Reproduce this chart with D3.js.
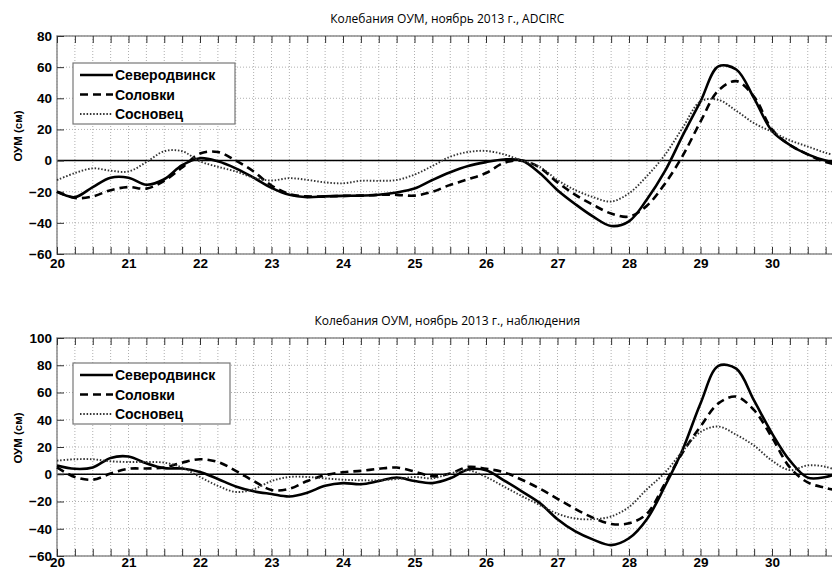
<!DOCTYPE html>
<html>
<head>
<meta charset="utf-8">
<script src="https://cdn.jsdelivr.net/npm/d3@7"></script>
<style>
body { margin: 0; background: #fff; }
text { font-family: "Liberation Sans", Arial, sans-serif; }
</style>
</head>
<body>
<svg id="svg1" width="832" height="572"></svg>
<script>
// время, сутки ноября 2013 (шаг 6 ч)
var days = [20, 20.25, 20.5, 20.75, 21, 21.25, 21.5, 21.75, 22, 22.25, 22.5, 22.75,
    23, 23.25, 23.5, 23.75, 24, 24.25, 24.5, 24.75, 25, 25.25, 25.5, 25.75,
    26, 26.25, 26.5, 26.75, 27, 27.25, 27.5, 27.75, 28, 28.25, 28.5, 28.75,
    29, 29.25, 29.5, 29.75, 30, 30.25, 30.5, 30.75, 31];

var stations = ['Северодвинск', 'Соловки', 'Сосновец'];
var dayLabels = [20, 21, 22, 23, 24, 25, 26, 27, 28, 29, 30];

// ADCIRC
var sevModel = [-20, -23.5, -17, -11, -11, -15.5, -12, -3, 1.5, -0.5, -5, -11,
    -17.5, -22, -23.5, -23, -22.7, -22.5, -22, -20.5, -18, -12.5, -7.5, -3.5,
    -1, 0.7, 0, -8, -19, -28, -36, -42, -39, -25, -7, 16,
    38, 60.5, 58.5, 40, 19, 10, 4, 0, -2];
var solModel = [-20, -24, -23, -19, -17, -18, -13, -4.5, 4.5, 5.5, 0, -7,
    -16, -21.5, -23, -23, -22.7, -22.5, -22, -22, -22.5, -20, -15.6, -12,
    -8, -1.5, 0, -4.5, -14, -22, -28.5, -34, -36, -29, -15, 3,
    25, 45, 51, 41, 20, 10, 4, -1, -3];
var sosModel = [-12.5, -8, -5, -6.5, -7, -1, 6, 6, -0.5, -4, -7, -11,
    -12.8, -11.3, -12.4, -14, -14.6, -13, -13, -12.5, -9, -3.5, 2.5, 5.5,
    6.2, 4, 0, -4, -12.5, -19, -23.5, -26.3, -21, -10, 3.5, 21,
    38, 39, 32, 24, 18.5, 13, 9, 5, 2];

// наблюдения
var sevObs = [6.5, 4, 5, 12, 13, 8, 4.5, 4.2, 1.7, -3.5, -9, -12.5,
    -14.5, -16.3, -13.5, -8.5, -6.5, -7.3, -5, -2.4, -5, -6.5, -3, 3.5,
    3, -4.5, -12.5, -21, -33, -42, -48, -52, -47, -33, -9, 18,
    52, 79.5, 77.5, 54, 30, 10, -2.5, -2, 2];
var solObs = [5, -2, -4, 0.5, 4, 4.2, 5, 8.5, 11, 9, 2.5, -5,
    -11.5, -10.7, -5, -0.7, 1.5, 2.5, 4, 4.9, 2, -1.5, 0.5, 5.4,
    4, 1.5, -4, -10.5, -18, -25.5, -32, -36.5, -36, -29, -7, 16,
    35, 52, 57, 47, 27, 5, -6, -10, -13];
var sosObs = [10, 11, 11, 9.5, 9, 9, 8.5, 5, -2, -8.5, -13, -11,
    -5, -2, -2, -3, -4, -4.4, -4.4, -3.5, -2, -3, 0.5, 2.9,
    -2, -9, -16, -22.5, -29, -32.5, -33, -31, -24, -11, 1, 17,
    31, 35, 29, 21, 10, 3, 6.5, 5.5, 1];

var yTicksTop = [-60, -40, -20, 0, 20, 40, 60, 80];
var yTicksBottom = [-60, -40, -20, 0, 20, 40, 60, 80, 100];

var svg = d3.select('#svg1');

var marginLeft = 57;
var plotRight = 843.5; // ось уходит за край картинки (до 31-го)

var scaleX = d3.scaleLinear().domain([20, 31]).range([marginLeft, plotRight]);
var minorDays = d3.range(20, 31.001, 0.25);

var styles = [
    {width: 2.6, dash: null, color: '#000'},
    {width: 2.6, dash: '8,5', color: '#000'},
    {width: 1.9, dash: '1.5,1.8', color: '#333'}
];

function drawPanel(p) {
    var g = svg.append('g');
    var scaleY = d3.scaleLinear().domain(p.yDomain).range([p.bottom, p.top]);

    // сетка
    g.selectAll('.vgrid').data(minorDays).enter()
        .append('line')
        .attr('x1', function(d) { return scaleX(d); })
        .attr('x2', function(d) { return scaleX(d); })
        .attr('y1', p.top)
        .attr('y2', p.bottom)
        .attr('stroke', '#9a9a9a')
        .attr('stroke-width', 0.8)
        .attr('stroke-dasharray', '1,2');
    g.selectAll('.hgrid').data(p.yTicks).enter()
        .append('line')
        .attr('x1', marginLeft)
        .attr('x2', plotRight)
        .attr('y1', function(d) { return scaleY(d); })
        .attr('y2', function(d) { return scaleY(d); })
        .attr('stroke', '#9a9a9a')
        .attr('stroke-width', 0.8)
        .attr('stroke-dasharray', '1,2');

    // нулевая линия
    g.append('line')
        .attr('x1', marginLeft).attr('x2', plotRight)
        .attr('y1', scaleY(0)).attr('y2', scaleY(0))
        .attr('stroke', '#000')
        .attr('stroke-width', 1.5);

    // рамка
    g.append('rect')
        .attr('x', marginLeft).attr('y', p.top)
        .attr('width', plotRight - marginLeft).attr('height', p.bottom - p.top)
        .attr('fill', 'none')
        .attr('stroke', '#8c8c8c')
        .attr('stroke-width', 1.5);

    // штрихи внутрь
    var tickBottom = g.append('g')
        .attr('transform', 'translate(0,' + p.bottom + ')')
        .call(d3.axisBottom(scaleX).tickValues(minorDays).tickSize(-7).tickFormat(''));
    var tickTop = g.append('g')
        .attr('transform', 'translate(0,' + p.top + ')')
        .call(d3.axisTop(scaleX).tickValues(minorDays).tickSize(-7).tickFormat(''));
    [tickBottom, tickTop].forEach(function(a) {
        a.select('.domain').remove();
        a.selectAll('line').attr('stroke', '#333').attr('stroke-width', 1);
    });

    // подписи дней
    var xLab = g.append('g')
        .attr('transform', 'translate(0,' + p.bottom + ')')
        .call(d3.axisBottom(scaleX).tickValues(dayLabels).tickSize(0).tickPadding(p.xPad).tickFormat(d3.format('d')));
    xLab.select('.domain').remove();
    xLab.selectAll('text')
        .attr('font-size', 13.5).attr('font-weight', 'bold').attr('fill', '#000')
        .style('font-family', '"Liberation Sans", Arial, sans-serif');

    // ось Y
    var yAx = g.append('g')
        .attr('transform', 'translate(' + marginLeft + ',0)')
        .call(d3.axisLeft(scaleY).tickValues(p.yTicks).tickSize(-7).tickPadding(5));
    yAx.select('.domain').remove();
    yAx.selectAll('line').attr('stroke', '#333');
    yAx.selectAll('text')
        .attr('font-size', 13.5).attr('font-weight', 'bold').attr('fill', '#000')
        .style('font-family', '"Liberation Sans", Arial, sans-serif');

    g.append('text')
        .attr('transform', 'translate(22,' + ((p.top + p.bottom) / 2 - 9) + ') rotate(-90)')
        .attr('text-anchor', 'middle')
        .attr('font-size', 11.5)
        .attr('font-weight', 'bold')
        .text('ОУМ (см)');

    // заголовок
    g.append('text')
        .attr('x', (marginLeft + plotRight) / 2 - 3)
        .attr('y', p.top - 13)
        .attr('text-anchor', 'middle')
        .attr('font-size', 12)
        .style('font-family', '"Open Sans", "Liberation Sans", sans-serif')
        .text(p.title);

    // кривые
    var line = d3.line()
        .x(function(d, i) { return scaleX(days[i]); })
        .y(function(d) { return scaleY(d); })
        .curve(d3.curveCatmullRom.alpha(0.5));

    p.series.forEach(function(s, i) {
        g.append('path')
            .attr('d', line(s))
            .attr('fill', 'none')
            .attr('stroke', styles[i].color)
            .attr('stroke-width', styles[i].width)
            .attr('stroke-dasharray', styles[i].dash);
    });

    // легенда
    var lg = g.append('g').attr('transform', 'translate(' + p.legend[0] + ',' + p.legend[1] + ')');
    lg.append('rect')
        .attr('width', p.legend[2]).attr('height', 61)
        .attr('fill', '#fff')
        .attr('stroke', '#777')
        .attr('stroke-width', 1.2);
    stations.forEach(function(name, i) {
        var yy = 12 + i * 19.5;
        lg.append('line')
            .attr('x1', 7).attr('x2', 40)
            .attr('y1', yy).attr('y2', yy)
            .attr('stroke', styles[i].color)
            .attr('stroke-width', styles[i].width)
            .attr('stroke-dasharray', styles[i].dash);
        lg.append('text')
            .attr('x', 42)
            .attr('y', yy + 5)
            .attr('font-size', 14)
            .attr('font-weight', 'bold')
            .text(name);
    });
}

drawPanel({
    top: 36, bottom: 254,
    yDomain: [-60, 80], yTicks: yTicksTop,
    title: 'Колебания ОУМ, ноябрь 2013 г., ADCIRC',
    series: [sevModel, solModel, sosModel],
    legend: [73, 63, 162],
    xPad: 4
});

drawPanel({
    top: 338, bottom: 556,
    yDomain: [-60, 100], yTicks: yTicksBottom,
    title: 'Колебания ОУМ, ноябрь 2013 г., наблюдения',
    series: [sevObs, solObs, sosObs],
    legend: [73, 363, 157],
    xPad: 1
});
</script>
</body>
</html>
